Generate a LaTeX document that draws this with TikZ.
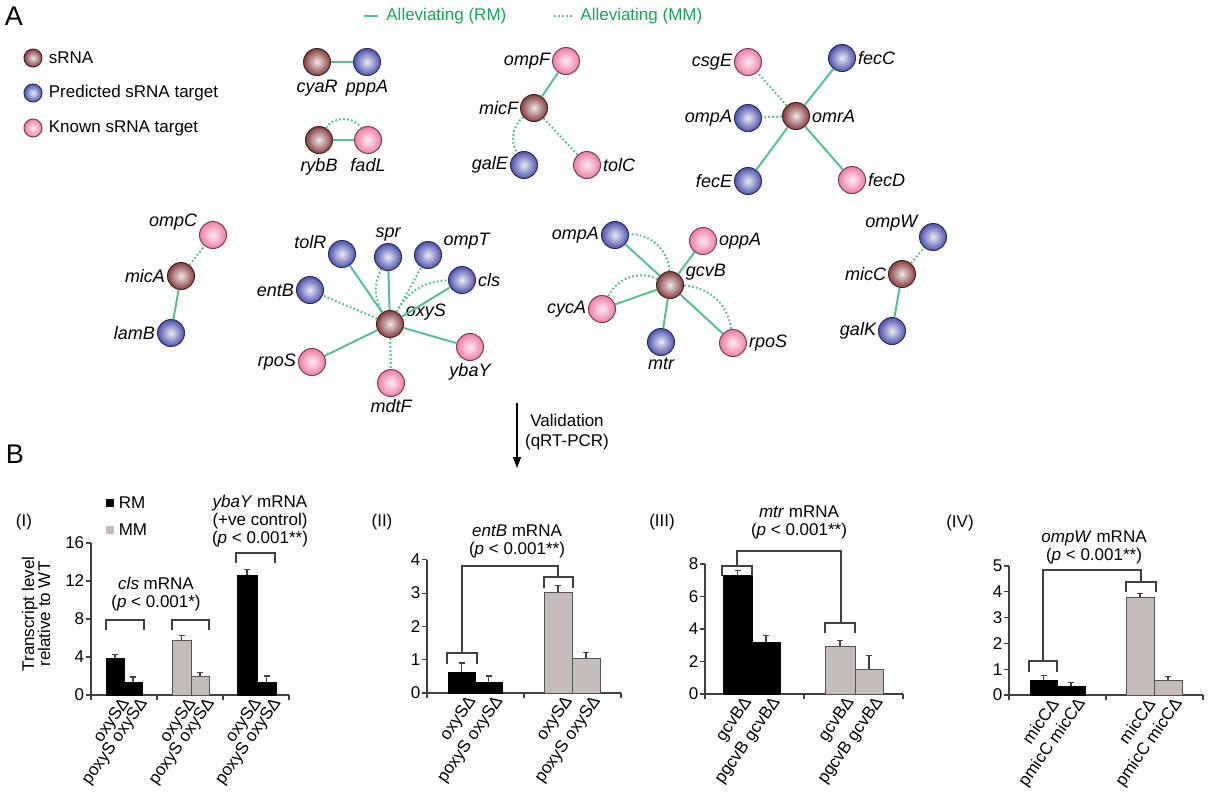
\documentclass[tikz,border=0pt]{standalone}
\usepackage{fontspec}
\setmainfont{Liberation Sans}
\usetikzlibrary{positioning,arrows.meta}

\definecolor{srnacol}{RGB}{132,62,64}
\definecolor{predcol}{RGB}{78,82,170}
\definecolor{knowncol}{RGB}{238,125,168}
\definecolor{edgegreen}{RGB}{88,192,142}
\definecolor{titlegreen}{RGB}{22,166,86}
\definecolor{barfill}{RGB}{196,187,187}
\definecolor{axisgray}{RGB}{64,64,64}

\tikzset{
  gene/.style={circle, minimum size=13.5pt, inner sep=0pt, line width=0.5pt},
  srna/.style={gene, draw=srnacol!55!black, inner color=white!88!srnacol, outer color=srnacol},
  pred/.style={gene, draw=predcol!55!black, inner color=white!88!predcol, outer color=predcol},
  known/.style={gene, draw=knowncol!50!black, inner color=white!85!knowncol, outer color=knowncol},
  keydot/.style={minimum size=9pt},
  rm/.style={draw=edgegreen, line width=1pt},
  mm/.style={draw=edgegreen, line width=1pt, dash pattern=on 0.9pt off 1.1pt},
  glbl/.style={font=\fontsize{9}{10}\selectfont\itshape, inner sep=0.8pt},
  keytxt/.style={font=\fontsize{8.5}{10}\selectfont, inner sep=1pt},
  gtitle/.style={font=\fontsize{8.5}{10}\selectfont, text=titlegreen, inner sep=1pt},
  panlbl/.style={font=\fontsize{13.5}{15}\selectfont, inner sep=0pt},
  chtxt/.style={font=\fontsize{8.5}{9}\selectfont, inner sep=0pt, align=center},
  ticklbl/.style={font=\fontsize{8.5}{10}\selectfont, inner sep=0.6pt, left},
  xlbl/.style={font=\fontsize{8.5}{10}\selectfont, inner sep=0pt, anchor=east, rotate=55},
  axisline/.style={draw=axisgray, line width=0.6pt},
  blackbar/.style={fill=black, draw=black, line width=0.5pt},
  graybar/.style={fill=barfill, draw=axisgray!90, line width=0.5pt},
  errbar/.style={draw=axisgray, line width=0.6pt},
  bracket/.style={draw=axisgray, line width=0.6pt},
}

\begin{document}
\begin{tikzpicture}[x=0.5pt, y=-0.5pt]
\useasboundingbox (0,0) rectangle (1208,800);

% ---- panel A: legend
\node[panlbl] (labA) at (14,16) {A};
\node[srna, keydot] (keyS) at (33,58) {};
\node[keytxt, right=2pt of keyS] {sRNA};
\node[pred, keydot] (keyP) at (33,93) {};
\node[keytxt, right=2pt of keyP] {Predicted sRNA target};
\node[known, keydot] (keyK) at (33,128) {};
\node[keytxt, right=2pt of keyK] {Known sRNA target};

\node[gtitle, anchor=west] (keyRMtxt) at (384,16) {Alleviating (RM)};
\coordinate[left=3pt of keyRMtxt] (keyRMend);
\draw[rm] (keyRMend) -- ++(-14,0);
\node[gtitle, anchor=west] (keyMMtxt) at (578,16) {Alleviating (MM)};
\coordinate[left=3pt of keyMMtxt] (keyMMend);
\draw[mm] (keyMMend) -- ++(-20,0);

% ---- networks
\node[srna] (cyaR) at (317,62) {};
\node[pred] (pppA) at (367,62) {};
\node[srna] (rybB) at (319,140) {};
\node[known] (fadL) at (368,140) {};
\node[glbl, below=1pt of cyaR] {cyaR};
\node[glbl, below=1pt of pppA] {pppA};
\node[glbl, below=1pt of rybB] {rybB};
\node[glbl, below=1pt of fadL] {fadL};
\draw[rm] (cyaR) -- (pppA);
\draw[rm] (rybB) -- (fadL);
\draw[mm] (rybB) to[bend left=60] (fadL);

\node[known, label={[glbl]left:ompF}] (ompF) at (566,61) {};
\node[srna, label={[glbl]left:micF}] (micF) at (534,108) {};
\node[pred, label={[glbl]left:galE}] (galE) at (524,165) {};
\node[known, label={[glbl]right:tolC}] (tolC) at (587,165) {};
\draw[rm] (micF) -- (ompF);
\draw[mm] (micF) to[bend right=40] (galE);
\draw[mm] (micF) -- (tolC);

\node[srna, label={[glbl]right:omrA}] (omrA) at (796,116) {};
\node[known, label={[glbl]left:csgE}] (csgE) at (748,62) {};
\node[pred, label={[glbl]left:ompA}] (ompAa) at (748,118) {};
\node[pred, label={[glbl]left:fecE}] (fecE) at (748,181) {};
\node[pred, label={[glbl]right:fecC}] (fecC) at (842,58) {};
\node[known, label={[glbl]right:fecD}] (fecD) at (852,180) {};
\draw[mm] (omrA) -- (csgE);
\draw[mm] (omrA) -- (ompAa);
\draw[rm] (omrA) -- (fecE);
\draw[rm] (omrA) -- (fecC);
\draw[rm] (omrA) -- (fecD);

\node[known, label={[glbl]170:ompC}] (ompC) at (213,235) {};
\node[srna, label={[glbl]left:micA}] (micA) at (181,276) {};
\node[pred, label={[glbl]left:lamB}] (lamB) at (171,333) {};
\draw[mm] (micA) -- (ompC);
\draw[rm] (micA) -- (lamB);

\node[srna, label={[glbl]8:oxyS}] (oxyS) at (390,324) {};
\node[pred, label={[glbl]165:tolR}] (tolR) at (342,254) {};
\node[pred, label={[glbl]above:spr}] (spr) at (388,257) {};
\node[pred, label={[glbl]15:ompT}] (ompT) at (428,255) {};
\node[pred, label={[glbl]right:cls}] (cls) at (462,280) {};
\node[pred, label={[glbl]left:entB}] (entB) at (310,290) {};
\node[known, label={[glbl]left:rpoS}] (rpoSa) at (312,362) {};
\node[known, label={[glbl]below:ybaY}] (ybaY) at (470,347) {};
\node[known, label={[glbl]below:mdtF}] (mdtF) at (391,383) {};
\draw[rm] (oxyS) -- (tolR);
\draw[rm] (oxyS) -- (spr);
\draw[mm] (oxyS) to[bend left=30] (spr);
\draw[mm] (oxyS) -- (ompT);
\draw[rm] (oxyS) -- (cls);
\draw[mm] (oxyS) to[bend left=30] (cls);
\draw[mm] (oxyS) -- (entB);
\draw[rm] (oxyS) -- (rpoSa);
\draw[rm] (oxyS) -- (ybaY);
\draw[mm] (oxyS) -- (mdtF);

\node[srna, label={[glbl]10:gcvB}] (gcvB) at (670,285) {};
\node[pred, label={[glbl]left:ompA}] (ompAb) at (615,235) {};
\node[known, label={[glbl]right:oppA}] (oppA) at (703,241) {};
\node[known, label={[glbl]left:cycA}] (cycA) at (602,309) {};
\node[pred, label={[glbl]below:mtr}] (mtr) at (661,342) {};
\node[known, label={[glbl]right:rpoS}] (rpoSb) at (733,343) {};
\draw[rm] (gcvB) -- (ompAb);
\draw[mm] (gcvB) to[bend right=45] (ompAb);
\draw[rm] (gcvB) -- (oppA);
\draw[rm] (gcvB) -- (cycA);
\draw[mm] (gcvB) to[bend right=45] (cycA);
\draw[rm] (gcvB) -- (mtr);
\draw[rm] (gcvB) -- (rpoSb);
\draw[mm] (gcvB) to[bend left=40] (rpoSb);

\node[pred, label={[glbl]165:ompW}] (ompW) at (933,237) {};
\node[srna, label={[glbl]left:micC}] (micC) at (902,274) {};
\node[pred, label={[glbl]left:galK}] (galK) at (892,331) {};
\draw[mm] (micC) -- (ompW);
\draw[rm] (micC) -- (galK);

% ---- validation arrow
\coordinate (valtop) at (517,403);
\coordinate (valbot) at (517,468);
\draw[-{Triangle[length=5.5pt,width=4pt]}, line width=0.6pt] (valtop) -- (valbot);
\node[chtxt, font=\fontsize{8.5}{10}\selectfont] (valtxt) at (567,432) {Validation\\(qRT-PCR)};

% ---- panel B
\node[panlbl] (labB) at (15,454) {B};

% (I)
\node[chtxt] (subI) at (24,522) {(I)};
\node[fill=black, minimum size=4pt, inner sep=0pt] (keyRM) at (110,503) {};
\node[keytxt, right=1pt of keyRM] {RM};
\node[fill=barfill, minimum size=4pt, inner sep=0pt] (keyMM) at (110,530) {};
\node[keytxt, right=1pt of keyMM] {MM};
\node[chtxt, font=\fontsize{8.5}{8}\selectfont, rotate=90] (ytitle) at (36,614) {Transcript level\\relative to WT};
\node[chtxt] (clsTxt) at (156,594) {\textit{cls} mRNA\\(\textit{p} < 0.001*)};
\node[chtxt] (ybaTxt) at (260,521) {\textit{ybaY} mRNA\\(+ve control)\\(\textit{p} < 0.001**)};
\begin{scope}[shift={(0,695)}, y=4.75pt]
  \draw[axisline] (91,16) -- (91,0) -- (289,0);
  \foreach \v in {0,4,8,12,16}
    \draw[axisline] (91,\v) -- ++(-5,0) node[ticklbl] {\v};
  \foreach \xt in {91,157,223,289}
    \draw[axisline] (\xt,0) -- ++(0pt,-2.5pt);
  \foreach \xa/\xb/\v/\e/\bs/\t in {106/124/3.8/4.3/blackbar/{oxySΔ},
      124/142/1.35/1.9/blackbar/{poxyS oxySΔ}, 172/191/5.7/6.3/graybar/{oxySΔ},
      191/209/1.95/2.4/graybar/{poxyS oxySΔ}, 237/257/12.6/13.2/blackbar/{oxySΔ},
      257/276/1.35/2.0/blackbar/{poxyS oxySΔ}}{
    \pgfmathsetmacro\xm{(\xa+\xb)/2}
    \draw[errbar] (\xm,\v) -- (\xm,\e) (\xm-3,\e) -- (\xm+3,\e);
    \filldraw[\bs] (\xa,0) rectangle (\xb,\v);
    \node[xlbl, yshift=-4.5pt] at (\xm+4,0) {\t};
  }
\end{scope}
\draw[bracket] (106,630) -- (106,620) -- (144,620) -- (144,630);
\draw[bracket] (172,630) -- (172,620) -- (209,620) -- (209,630);
\draw[bracket] (236,563) -- (236,553) -- (275,553) -- (275,563);

% (II)
\node[chtxt] (subII) at (382,522) {(II)};
\node[chtxt] (entTxt) at (517,541) {\textit{entB} mRNA\\(\textit{p} < 0.001**)};
\begin{scope}[shift={(0,693)}, y=16.65pt]
  \draw[axisline] (427,4) -- (427,0) -- (621,0);
  \foreach \v in {0,...,4}
    \draw[axisline] (427,\v) -- ++(-5,0) node[ticklbl] {\v};
  \foreach \xt in {427,524,621}
    \draw[axisline] (\xt,0) -- ++(0pt,-2.5pt);
  \foreach \xa/\xb/\v/\e/\bs/\t in {448/475/0.63/0.9/blackbar/{oxySΔ},
      475/502/0.32/0.51/blackbar/{poxyS oxySΔ}, 544/572/3.02/3.22/graybar/{oxySΔ},
      572/600/1.05/1.22/graybar/{poxyS oxySΔ}}{
    \pgfmathsetmacro\xm{(\xa+\xb)/2}
    \draw[errbar] (\xm,\v) -- (\xm,\e) (\xm-3,\e) -- (\xm+3,\e);
    \filldraw[\bs] (\xa,0) rectangle (\xb,\v);
    \node[xlbl, yshift=-4.5pt] at (\xm+4,0) {\t};
  }
\end{scope}
\draw[bracket] (447,664) -- (447,653) -- (477,653) -- (477,664);
\draw[bracket] (544,588) -- (544,577) -- (573,577) -- (573,588);
\draw[bracket] (462,653) -- (462,566) -- (558,566) -- (558,577);

% (III)
\node[chtxt] (subIII) at (662,522) {(III)};
\node[chtxt] (mtrTxt) at (799,522) {\textit{mtr} mRNA\\(\textit{p} < 0.001**)};
\begin{scope}[shift={(0,694)}, y=8.125pt]
  \draw[axisline] (705,8) -- (705,0) -- (903,0);
  \foreach \v in {0,2,4,6,8}
    \draw[axisline] (705,\v) -- ++(-5,0) node[ticklbl] {\v};
  \foreach \xt in {705,804,903}
    \draw[axisline] (\xt,0) -- ++(0pt,-2.5pt);
  \foreach \xa/\xb/\v/\e/\bs/\t in {723/752/7.3/7.6/blackbar/{gcvBΔ},
      752/780/3.2/3.6/blackbar/{pgcvB gcvBΔ}, 825/855/2.9/3.3/graybar/{gcvBΔ},
      855/883/1.5/2.35/graybar/{pgcvB gcvBΔ}}{
    \pgfmathsetmacro\xm{(\xa+\xb)/2}
    \draw[errbar] (\xm,\v) -- (\xm,\e) (\xm-3,\e) -- (\xm+3,\e);
    \filldraw[\bs] (\xa,0) rectangle (\xb,\v);
    \node[xlbl, yshift=-4.5pt] at (\xm+4,0) {\t};
  }
\end{scope}
\draw[bracket] (722,576) -- (722,566) -- (752,566) -- (752,576);
\draw[bracket] (825,633) -- (825,623) -- (855,623) -- (855,633);
\draw[bracket] (737,566) -- (737,551) -- (841,551) -- (841,623);

% (IV)
\node[chtxt] (subIV) at (960,523) {(IV)};
\node[chtxt] (ompTxt) at (1094,547) {\textit{ompW} mRNA\\(\textit{p} < 0.001**)};
\begin{scope}[shift={(0,695)}, y=12.9pt]
  \draw[axisline] (1009,5) -- (1009,0) -- (1203,0);
  \foreach \v in {0,...,5}
    \draw[axisline] (1009,\v) -- ++(-5,0) node[ticklbl] {\v};
  \foreach \xt in {1009,1106,1203}
    \draw[axisline] (\xt,0) -- ++(0pt,-2.5pt);
  \foreach \xa/\xb/\v/\e/\bs/\t in {1030/1057/0.55/0.77/blackbar/{micCΔ},
      1057/1085/0.33/0.5/blackbar/{pmicC micCΔ}, 1126/1154/3.78/3.95/graybar/{micCΔ},
      1154/1182/0.57/0.73/graybar/{pmicC micCΔ}}{
    \pgfmathsetmacro\xm{(\xa+\xb)/2}
    \draw[errbar] (\xm,\v) -- (\xm,\e) (\xm-3,\e) -- (\xm+3,\e);
    \filldraw[\bs] (\xa,0) rectangle (\xb,\v);
    \node[xlbl, yshift=-4.5pt] at (\xm+4,0) {\t};
  }
\end{scope}
\draw[bracket] (1029,672) -- (1029,661) -- (1057,661) -- (1057,672);
\draw[bracket] (1126,592) -- (1126,582) -- (1156,582) -- (1156,592);
\draw[bracket] (1043,661) -- (1043,570) -- (1141,570) -- (1141,582);
\end{tikzpicture}
\end{document}
